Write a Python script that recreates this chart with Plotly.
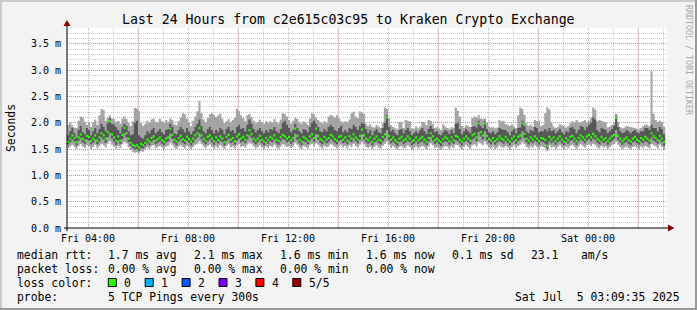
import plotly.graph_objects as go
import pandas as pd

# ---------------- data (values in hundredths of a millisecond) ----------------
title = "Last 24 Hours from c2e615c03c95 to Kraken Crypto Exchange"
x_start = "2025-07-04 03:09:35"
x_end = "2025-07-05 03:09:35"
first_sample_end = "2025-07-04 03:15:00"

median = [
    164,170,176,171,163,172,178,170,166,175,173,165,
    170,176,166,172,180,176,170,182,203,178,172,166,
    174,166,177,190,180,170,162,158,155,157,153,160,
    157,162,168,164,171,174,166,169,172,167,164,170,
    172,189,177,168,164,171,175,169,166,173,169,164,
    170,176,180,190,176,170,166,173,176,170,165,172,
    167,174,170,163,173,177,168,171,165,174,178,170,
    173,168,176,186,179,170,166,170,175,168,164,171,
    167,173,170,176,168,165,172,177,174,170,173,167,
    171,189,175,168,164,173,170,166,174,178,171,189,
    175,169,166,173,168,171,177,174,169,166,173,175,
    168,172,166,174,170,178,172,168,175,187,176,170,
    167,172,164,170,174,168,166,173,178,210,175,168,
    172,167,163,170,173,166,169,174,170,164,167,172,
    166,170,173,168,164,171,180,174,167,170,166,163,
    169,173,170,165,172,167,175,173,168,164,170,174,
    170,166,176,179,172,199,182,176,199,175,169,166,
    171,165,169,174,170,167,173,168,164,170,174,167,
    173,176,199,179,170,166,172,168,174,170,165,171,
    170,167,156,173,168,172,165,170,174,168,164,171,
    167,173,175,170,165,171,176,172,168,174,177,172,
    179,174,169,166,173,168,171,165,170,174,177,210,
    175,170,165,169,172,167,164,170,173,168,165,171,
    168,173,170,166,180,174,171,167,175,170,163,
]
ping_lo = [
    159,163,168,164,157,166,171,163,160,168,166,159,
    162,168,159,164,172,168,162,173,180,170,164,158,
    166,160,169,180,172,163,156,152,149,150,147,152,
    151,156,161,157,164,167,159,162,165,160,157,163,
    165,179,169,161,157,164,168,162,159,166,162,157,
    162,168,172,180,168,163,159,165,168,163,158,164,
    160,166,163,157,165,169,161,164,158,166,170,163,
    165,161,168,176,171,163,159,163,167,161,157,164,
    160,165,163,168,161,158,165,169,167,163,165,160,
    164,179,167,161,157,165,163,159,166,170,164,178,
    167,162,159,165,161,164,169,166,162,159,165,167,
    161,164,159,166,163,170,165,161,167,178,168,163,
    160,164,157,163,166,161,159,165,170,186,167,161,
    164,160,156,163,165,159,162,166,163,157,160,164,
    159,163,165,161,157,164,173,166,160,163,159,156,
    162,165,163,158,164,160,167,165,161,157,163,166,
    163,159,168,171,165,182,174,168,184,167,162,159,
    164,158,162,166,163,160,165,161,157,163,166,160,
    165,168,184,171,163,159,164,161,166,163,158,164,
    163,160,150,165,161,164,158,163,166,161,157,164,
    160,165,167,163,158,164,168,165,161,166,169,165,
    170,167,162,159,165,161,164,158,163,166,169,186,
    167,163,158,162,164,160,157,163,165,161,158,164,
    161,165,163,159,172,166,164,160,167,163,156,
]
ping_hi = [
    176,184,190,180,172,186,194,182,178,190,186,176,
    184,190,180,188,198,192,184,200,208,198,196,192,
    186,180,192,198,194,184,176,178,200,204,176,172,
    170,176,184,180,186,190,180,184,188,182,178,186,
    188,198,192,180,178,186,192,188,182,190,184,178,
    184,192,198,206,194,184,180,188,192,186,180,186,
    182,190,186,178,188,192,184,186,180,192,196,188,
    190,184,196,206,198,188,182,186,190,184,180,186,
    182,188,186,192,184,180,188,200,204,196,190,182,
    186,198,190,184,180,188,186,182,192,200,204,198,
    192,184,182,188,184,192,196,192,186,184,190,194,
    182,186,182,190,188,196,192,186,194,200,198,188,
    180,186,176,184,188,182,180,190,200,214,192,184,
    186,180,176,186,188,180,186,190,184,176,180,184,
    180,186,190,184,178,188,194,188,182,184,178,176,
    182,186,184,178,186,180,198,200,188,178,184,188,
    184,180,192,194,191,204,194,190,203,188,182,180,
    184,178,182,190,188,186,186,182,176,184,188,180,
    190,191,204,194,184,180,186,184,192,190,182,184,
    184,188,184,190,184,186,180,184,188,182,178,184,
    182,190,192,188,180,186,194,192,186,192,196,200,
    210,206,186,182,190,188,186,180,184,188,194,214,
    192,184,180,182,186,184,180,184,186,182,180,184,
    184,190,190,186,196,190,190,184,192,188,178,
]
ping_min = [
    152,155,158,154,150,156,159,155,152,157,155,150,
    154,158,151,155,160,157,153,161,165,158,155,151,
    156,152,159,164,161,154,148,145,143,144,142,146,
    145,149,153,150,155,157,151,154,156,153,150,155,
    156,162,158,153,150,155,157,154,151,156,153,149,
    154,158,160,164,159,155,152,156,158,154,150,155,
    152,157,154,150,156,159,153,155,151,157,160,154,
    156,153,158,162,160,155,151,154,157,153,150,155,
    152,156,154,158,153,150,155,159,157,154,156,152,
    155,162,158,153,150,156,154,151,157,160,155,161,
    158,154,151,156,153,155,159,157,154,151,156,158,
    153,156,151,157,154,160,156,153,158,163,159,154,
    152,155,150,154,157,153,151,156,160,164,158,152,
    156,152,148,154,156,151,153,157,154,149,152,155,
    151,154,156,153,149,155,161,157,152,154,151,148,
    153,156,154,150,155,152,158,157,153,149,154,157,
    154,151,157,159,155,163,161,157,164,158,153,151,
    155,150,153,157,154,152,156,153,149,154,157,152,
    156,158,163,160,154,151,155,153,157,154,150,155,
    154,152,146,157,153,155,150,154,157,153,149,155,
    152,156,158,154,150,155,159,156,153,157,159,156,
    160,158,153,151,156,153,155,150,154,157,159,164,
    158,154,150,153,155,152,149,154,156,153,150,155,
    152,156,154,151,160,157,155,151,158,154,149,
]
ping_max = [
    196,200,195,191,190,204,212,210,202,196,200,192,
    200,206,196,214,226,224,204,210,214,208,207,202,
    204,198,208,212,207,200,194,203,228,227,222,199,
    194,198,204,200,206,208,202,200,207,203,200,205,
    202,208,205,197,195,203,210,218,216,208,200,194,
    204,212,222,242,218,206,201,209,216,218,215,211,
    214,217,208,199,203,207,201,205,210,226,222,214,
    209,203,214,217,211,204,199,202,206,201,198,203,
    200,203,201,207,202,199,206,218,216,212,205,198,
    204,210,207,201,198,203,200,196,208,218,216,210,
    205,201,199,203,200,212,215,213,210,214,208,203,
    200,203,201,206,218,221,212,209,222,219,217,198,
    194,197,192,191,196,193,190,199,229,226,209,195,
    192,189,187,202,201,190,205,204,203,189,188,193,
    189,193,202,200,195,205,204,198,190,192,188,186,
    197,193,190,188,192,190,229,223,212,194,191,195,
    194,192,209,212,210,215,208,207,208,200,193,191,
    192,189,191,205,203,204,197,196,194,197,193,190,
    214,229,226,215,199,194,197,193,205,203,204,194,
    196,218,229,225,200,193,190,192,197,195,194,191,
    194,199,203,201,205,202,200,203,205,201,204,210,
    229,225,203,205,204,202,200,191,193,196,200,217,
    202,192,189,191,194,193,192,191,190,188,187,190,
    194,197,196,193,298,217,205,202,204,201,193,
]

y_tick_vals = [0.0, 0.5, 1.0, 1.5, 2.0, 2.5, 3.0, 3.5]
y_tick_text = ["0.0 m", "0.5 m", "1.0 m", "1.5 m", "2.0 m", "2.5 m", "3.0 m", "3.5 m"]
x_tick_vals = ["2025-07-04 04:00", "2025-07-04 08:00", "2025-07-04 12:00",
               "2025-07-04 16:00", "2025-07-04 20:00", "2025-07-05 00:00"]
x_tick_text = ["Fri 04:00", "Fri 08:00", "Fri 12:00", "Fri 16:00", "Fri 20:00", "Sat 00:00"]
x_major_grid = ["2025-07-04 06:00", "2025-07-04 10:00", "2025-07-04 14:00",
                "2025-07-04 18:00", "2025-07-04 22:00", "2025-07-05 02:00"]

legend_rows = [
    [("median rtt:", 16), ("1.7 ms avg", 107), ("2.1 ms max", 193), ("1.6 ms min", 278.5),
     ("1.6 ms now", 365), ("0.1 ms sd", 451), ("23.1", 530), ("am/s", 579.5)],
    [("packet loss:", 16), ("0.00 % avg", 107), ("0.00 % max", 193), ("0.00 % min", 278.5),
     ("0.00 % now", 365)],
    [("loss color:", 16)],
    [("probe:", 16), ("5 TCP Pings every 300s", 107)],
]
loss_labels = ["0", "1", "2", "3", "4", "5/5"]
loss_colors = ["#26ff00", "#00b8ff", "#0059ff", "#7e00ff", "#ff0000", "#a10000"]
timestamp_text = "Sat Jul  5 03:09:35 2025"

# ---------------- geometry ----------------
W, H = 697, 310
L, R, T, B = 67, 667, 28, 228
MONO = "DejaVu Sans Mono"


def px(x):
    return (x - L) / (R - L)


def py(y):
    return (B - y) / (B - T)


# per-sample sorted pings (ms)
cols = []
for a, b, c, d, e in zip(ping_min, ping_lo, median, ping_hi, ping_max):
    s = sorted([a, b, c, d, e])
    cols.append([v / 100.0 for v in s])
p1 = [c[0] for c in cols]
p2 = [c[1] for c in cols]
pm = [v / 100.0 for v in median]
p4 = [c[3] for c in cols]
p5 = [c[4] for c in cols]

n = len(median)
ends = pd.date_range(first_sample_end, periods=n, freq="5min")
starts = ends - pd.Timedelta(minutes=5)
xs = list(starts) + [ends[-1]]


def ext(v):
    return list(v) + [v[-1]]


half = 0.021

fig = go.Figure()


def step(y, fill=None, color=None):
    fig.add_trace(go.Scatter(
        x=xs, y=ext(y), mode="lines", line=dict(width=0, shape="hv"),
        fill=fill if fill else "none", fillcolor=color, hoverinfo="skip",
        showlegend=False))


step(p1)
step(p5, "tonexty", "#a4a4a4")
step(p2)
step(p4, "tonexty", "#585858")
step([m - half for m in pm])
step([m + half for m in pm], "tonexty", "#26ff00")

shapes = []
# red major vertical grid
for t in x_major_grid:
    shapes.append(dict(type="line", xref="x", yref="paper", x0=t, x1=t, y0=0, y1=1,
                       line=dict(color="rgba(255,80,80,0.6)", width=1, dash="1px,1px"),
                       layer="below"))

axis_col = "#000000"
arrow_col = "#8b0000"
# axis lines
shapes.append(dict(type="line", xref="paper", yref="paper", x0=px(64), x1=px(670),
                   y0=py(228), y1=py(228), line=dict(color=axis_col, width=1)))
shapes.append(dict(type="line", xref="paper", yref="paper", x0=px(67), x1=px(67),
                   y0=py(231), y1=py(24), line=dict(color=axis_col, width=1)))
# arrows
shapes.append(dict(type="path", xref="paper", yref="paper",
                   path=f"M {px(668)},{py(224.5)} L {px(674.5)},{py(228)} L {px(668)},{py(231.5)} Z",
                   fillcolor=arrow_col, line=dict(width=0)))
shapes.append(dict(type="path", xref="paper", yref="paper",
                   path=f"M {px(63.5)},{py(26)} L {px(67)},{py(20)} L {px(70.5)},{py(26)} Z",
                   fillcolor=arrow_col, line=dict(width=0)))
# 3D border
shapes.append(dict(type="rect", xref="paper", yref="paper", x0=px(0), x1=px(697), y0=py(0), y1=py(2),
                   fillcolor="#cbcbcb", line=dict(width=0)))
shapes.append(dict(type="rect", xref="paper", yref="paper", x0=px(0), x1=px(2), y0=py(0), y1=py(310),
                   fillcolor="#cbcbcb", line=dict(width=0)))
shapes.append(dict(type="rect", xref="paper", yref="paper", x0=px(0), x1=px(697), y0=py(308), y1=py(310),
                   fillcolor="#999999", line=dict(width=0)))
shapes.append(dict(type="rect", xref="paper", yref="paper", x0=px(695), x1=px(697), y0=py(0), y1=py(310),
                   fillcolor="#999999", line=dict(width=0)))

annotations = []


def text(s, x, y, size=11.4, xanchor="left", color="#000", angle=0, yanchor="middle"):
    annotations.append(dict(text=s, x=px(x), y=py(y), xref="paper", yref="paper",
                            xanchor=xanchor, yanchor=yanchor, showarrow=False,
                            textangle=angle, borderpad=0,
                            font=dict(family=MONO, size=size, color=color)))


text(title, 348, 19, size=13.2, xanchor="center")
text("Seconds", 11, 128, size=11.4, xanchor="center", angle=-90)
text("RRDTOOL / TOBI OETIKER", 689, 60, size=8.3, xanchor="center", angle=90, color="#a8a8a8")

row_y = [254.5, 268.5, 282.5, 296.5]
for row, yy in zip(legend_rows, row_y):
    for s, x in row:
        text(s.replace(" ", "\u00a0"), x, yy)

for k, (lab, col) in enumerate(zip(loss_labels, loss_colors)):
    bx = 108.3 + k * 36.9
    shapes.append(dict(type="rect", xref="paper", yref="paper", x0=px(bx), x1=px(bx + 8),
                       y0=py(278.5), y1=py(286.5), fillcolor=col,
                       line=dict(color="#000", width=1)))
    text(lab, bx + 15, row_y[2])

text(timestamp_text.replace(" ", "\u00a0"), 680.5, row_y[3], xanchor="right")

grid_minor = "rgba(150,150,150,0.5)"
grid_major = "rgba(255,80,80,0.6)"

fig.update_layout(
    width=W, height=H,
    margin=dict(l=L, r=W - R, t=T, b=H - B, pad=0),
    paper_bgcolor="#f3f3f3", plot_bgcolor="#ffffff",
    showlegend=False,
    shapes=shapes, annotations=annotations,
    xaxis=dict(type="date", range=[x_start, x_end], tickmode="array",
               tickvals=x_tick_vals, ticktext=x_tick_text,
               showgrid=True, gridcolor=grid_minor, griddash="1px,1px", gridwidth=1,
               minor=dict(dtick=3600000, tick0="2025-07-04 00:00", showgrid=True,
                          gridcolor=grid_minor, griddash="1px,1px", gridwidth=1),
               ticks="", showline=False, zeroline=False, ticklabelstandoff=3,
               tickfont=dict(family=MONO, size=10, color="#000000")),
    yaxis=dict(range=[0, 3.8], tickmode="array", tickvals=y_tick_vals, ticktext=y_tick_text,
               showgrid=True, gridcolor=grid_major, griddash="1px,1px", gridwidth=1,
               minor=dict(dtick=0.1, tick0=0, showgrid=True, gridcolor=grid_minor,
                          griddash="1px,1px", gridwidth=1),
               ticks="", showline=False, zeroline=False, ticklabelstandoff=5,
               tickfont=dict(family=MONO, size=10, color="#000000")),
)

fig.write_html("out.html")
